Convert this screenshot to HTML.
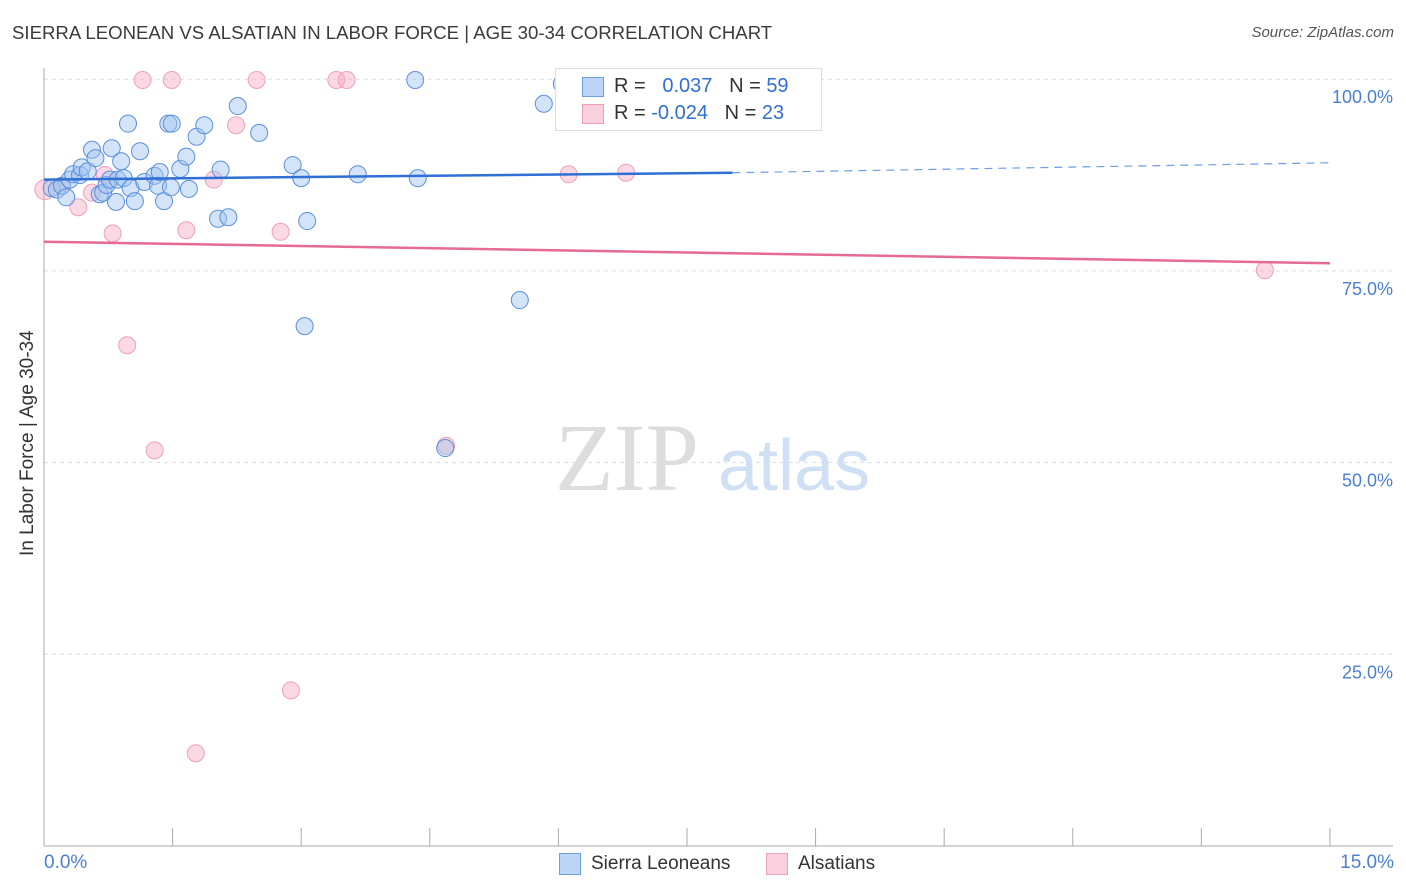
<!DOCTYPE html><html><head><meta charset="utf-8"><style>
body{margin:0;width:1406px;height:892px;background:#fff;font-family:"Liberation Sans",sans-serif;overflow:hidden;position:relative}
.t{position:absolute;white-space:nowrap}
</style></head><body>
<div class="t" style="left:12px;top:22px;font-size:18.6px;color:#3a3a3a">SIERRA LEONEAN VS ALSATIAN IN LABOR FORCE | AGE 30-34 CORRELATION CHART</div>
<div class="t" style="right:12px;top:24px;font-size:15px;color:#555;font-style:italic">Source: ZipAtlas.com</div>
<svg id="c" width="1406" height="892" style="position:absolute;left:0;top:0"></svg>
<script>
const blueX=[0.09,0.15,0.21,0.26,0.30,0.34,0.42,0.44,0.51,0.56,0.60,0.65,0.69,0.73,0.77,0.79,0.84,0.86,0.90,0.93,0.98,1.01,1.06,1.12,1.17,1.29,1.33,1.35,1.40,1.45,1.49,1.48,1.59,1.66,1.69,1.78,1.87,2.06,2.03,2.15,2.26,2.51,2.90,3.00,3.07,3.04,3.66,4.33,4.36,4.68,5.55,5.83,6.04,7.54];
const blueY=[85.8,85.6,86.1,84.6,86.9,87.6,87.5,88.5,88.0,90.8,89.7,85.0,85.2,86.2,86.9,91.0,84.0,86.9,89.3,87.1,94.2,85.8,84.1,90.6,86.6,87.4,86.1,87.9,84.1,94.2,94.2,85.9,88.3,89.9,85.7,92.5,94.0,88.2,81.8,82.0,96.5,93.0,88.8,87.1,81.5,67.8,87.6,99.9,87.1,51.9,71.2,96.8,99.4,99.9];
const pinkX=[0.01,0.21,0.40,0.56,0.71,0.80,0.97,1.15,1.29,1.49,1.66,1.77,1.98,2.24,2.48,2.76,2.88,3.41,3.53,4.69,6.12,6.79,14.24];
const pinkY=[85.6,86.1,83.3,85.2,87.5,79.9,65.3,99.9,51.6,99.9,80.3,12.1,86.9,94.0,99.9,80.1,20.3,99.9,99.9,52.2,87.6,87.8,75.1];
const blueTrend=[86.9,87.8,89.1];
const pinkTrend=[78.8,76.0];
const yTicks=[25,50,75,100];
const X=v=>44+v*85.73, Y=v=>846-v*7.668;
const s=document.getElementById('c');const NS='http://www.w3.org/2000/svg';
function mk(t,a,p){const e=document.createElementNS(NS,t);for(const k in a)e.setAttribute(k,a[k]);(p||s).appendChild(e);return e;}
yTicks.forEach(v=>{const l=mk('line',{x1:44,x2:1393,y1:Y(v),y2:Y(v),stroke:'#ddd','stroke-dasharray':'4,4'});


const t=mk('text',{x:1393,y:Y(v)+24,'text-anchor':'end','font-size':18,fill:'#4a7fd4','font-family':'Liberation Sans'});t.textContent=v.toFixed(1)+'%';

});
mk('line',{x1:44,x2:44,y1:68,y2:846,stroke:'#aaa'});
mk('line',{x1:44,x2:1393,y1:846,y2:846,stroke:'#aaa'});
for(let i=1;i<=10;i++){const tk=mk('line',{x1:X(i*1.5),x2:X(i*1.5),y1:828,y2:846,stroke:'#aaa'});

}
const wm=mk('text',{x:555,y:490,'font-size':96,fill:'#ddd','font-family':'Liberation Serif'});wm.textContent='ZIP';


const wm2=mk('text',{x:718,y:490,'font-size':72,fill:'#cfe0f5','font-family':'Liberation Sans'});wm2.textContent='atlas';


pinkX.forEach((x,i)=>{const c=mk('circle',{cx:X(x),cy:Y(pinkY[i]),r:i==0?10:8.5,fill:'rgba(246,170,196,0.45)',stroke:'#eea0bb','stroke-width':1});

});
blueX.forEach((x,i)=>{const c=mk('circle',{cx:X(x),cy:Y(blueY[i]),r:8.5,fill:'rgba(160,196,240,0.45)',stroke:'#5a8fdc','stroke-width':1});

});
const bl=mk('line',{x1:X(0),y1:Y(blueTrend[0]),x2:X(8.03),y2:Y(blueTrend[1]),stroke:'#2f6fd6','stroke-width':2.5});


const bd=mk('line',{x1:X(8.03),y1:Y(blueTrend[1]),x2:X(15),y2:Y(blueTrend[2]),stroke:'#6e9ee0','stroke-width':1.2,'stroke-dasharray':'8,6'});


const pl=mk('line',{x1:X(0),y1:Y(pinkTrend[0]),x2:X(15),y2:Y(pinkTrend[1]),stroke:'#e56a95','stroke-width':2.5});


</script>
<div style="position:absolute;left:555px;top:68px;width:265px;height:61px;border:1px solid #ddd;background:#fff;font-size:20px;color:#333">
<div style="position:absolute;left:26px;top:8px;width:20px;height:18px;background:#bcd5f7;border:1px solid #6e9ee0"></div>
<div class="t" style="left:58px;top:6px">R = &nbsp;<span style="color:#2f6fd6">&nbsp;0.037</span> &nbsp;&nbsp;N = <span style="color:#2f6fd6">59</span></div>
<div style="position:absolute;left:26px;top:35px;width:20px;height:18px;background:#fbd0de;border:1px solid #eea0bb"></div>
<div class="t" style="left:58px;top:33px">R = <span style="color:#2f6fd6">-0.024</span> &nbsp;&nbsp;N = <span style="color:#2f6fd6">23</span></div>
</div>
<div class="t" style="left:44px;top:852px;font-size:19px;color:#4a7fd4">0.0%</div>
<div class="t" style="right:12px;top:852px;font-size:19px;color:#4a7fd4">15.0%</div>
<div class="t" style="left:-72px;top:445px;font-size:19px;color:#333;transform:rotate(-90deg);width:200px;text-align:center;transform-origin:center">In Labor Force | Age 30-34</div>
<div style="position:absolute;left:559px;top:853px;width:20px;height:20px;background:#bcd5f7;border:1px solid #6e9ee0"></div>
<div class="t" style="left:591px;top:853px;font-size:19px;color:#333">Sierra Leoneans</div>
<div style="position:absolute;left:766px;top:853px;width:20px;height:20px;background:#fbd0de;border:1px solid #eea0bb"></div>
<div class="t" style="left:798px;top:853px;font-size:19px;color:#333">Alsatians</div>
</body></html>
